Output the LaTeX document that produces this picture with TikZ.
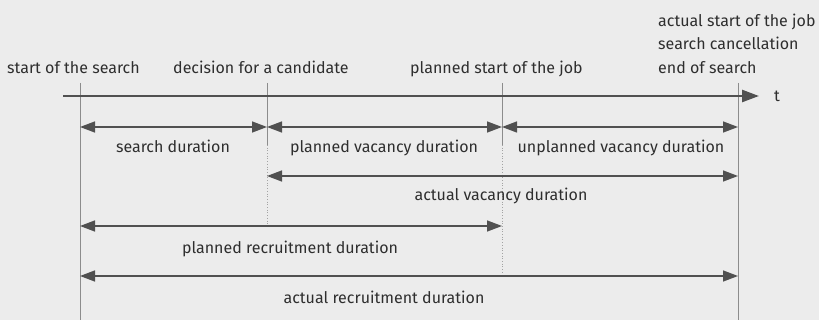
\documentclass[tikz,border=0pt]{standalone}
\usepackage{fontspec}
\setmainfont{Fira Sans}
\usetikzlibrary{arrows.meta}
\definecolor{bg}{HTML}{ECECEC}
\definecolor{ink}{HTML}{505050}
\definecolor{rule}{HTML}{8C8C8C}
\definecolor{txt}{HTML}{2E2E2E}
\tikzset{
  timeline/.style={draw=ink, line width=2.4pt, -{Triangle[length=17pt,width=12pt]}},
  span/.style={draw=ink, line width=1.4pt, {Triangle[length=15pt,width=11pt]}-{Triangle[length=15pt,width=11pt]}},
  marker/.style={draw=rule, line width=0.9pt},
  guide/.style={draw=rule!80, line width=0.7pt, dotted},
  lbl/.style={text=txt, font=\fontsize{16}{18}\selectfont, inner sep=0pt, anchor=base},
}
\begin{document}
\begin{tikzpicture}[x=1pt,y=-1pt]
  \fill[bg] (0,0) rectangle (819,320);
  \useasboundingbox (0,0) rectangle (819,320);

  % event positions along the time axis
  \coordinate (sA) at (80,83);   \coordinate (sB) at (80,320);
  \coordinate (dA) at (267,83);  \coordinate (dB) at (267,145); \coordinate (dC) at (267,226);
  \coordinate (pA) at (502,83);  \coordinate (pB) at (502,145); \coordinate (pC) at (502,273);
  \coordinate (eA) at (738,83);  \coordinate (eB) at (738,320);

  % vertical event markers
  \draw[marker] (sA) -- (sB);
  \draw[marker] (eA) -- (eB);
  \draw[marker] (dA) -- (dB);
  \draw[guide] (dB) -- (dC);
  \draw[marker] (pA) -- (pB);
  \draw[guide] (pB) -- (pC);

  % time axis
  \coordinate (t0) at (63,96);
  \coordinate (t1) at (759,96);
  \draw[timeline] (t0) -- (t1);
  \node[lbl, anchor=base west] (t) at (774,102) {t};

  % event labels
  \node[lbl, anchor=base west] (l1) at (7,74) {start of the search};
  \node[lbl, anchor=base west] (l2) at (173,74) {decision for a candidate};
  \node[lbl, anchor=base west] (l3) at (410,74) {planned start of the job};
  \node[lbl, anchor=base west] (l4) at (658,27) {actual start of the job};
  \node[lbl, anchor=base west] (l5) at (658,50) {search cancellation};
  \node[lbl, anchor=base west] (l6) at (658,74) {end of search};

  % first row of durations
  \coordinate (r1s) at (80,127);  \coordinate (r1d) at (267,127);
  \coordinate (r1p) at (502,127); \coordinate (r1e) at (738,127);
  \draw[span] (r1s) -- (r1d);
  \draw[span] (r1d) -- (r1p);
  \draw[span] (r1p) -- (r1e);
  \node[lbl] (n1) at (173,153) {search duration};
  \node[lbl] (n2) at (384,153) {planned vacancy duration};
  \node[lbl] (n3) at (621,153) {unplanned vacancy duration};

  % actual vacancy
  \coordinate (r2d) at (267,176); \coordinate (r2e) at (738,176);
  \draw[span] (r2d) -- (r2e);
  \node[lbl] (n4) at (501,201) {actual vacancy duration};

  % planned recruitment
  \coordinate (r3s) at (80,226); \coordinate (r3p) at (502,226);
  \draw[span] (r3s) -- (r3p);
  \node[lbl] (n5) at (290,254) {planned recruitment duration};

  % actual recruitment
  \coordinate (r4s) at (80,276); \coordinate (r4e) at (738,276);
  \draw[span] (r4s) -- (r4e);
  \node[lbl] (n6) at (384,303) {actual recruitment duration};
\end{tikzpicture}
\end{document}
